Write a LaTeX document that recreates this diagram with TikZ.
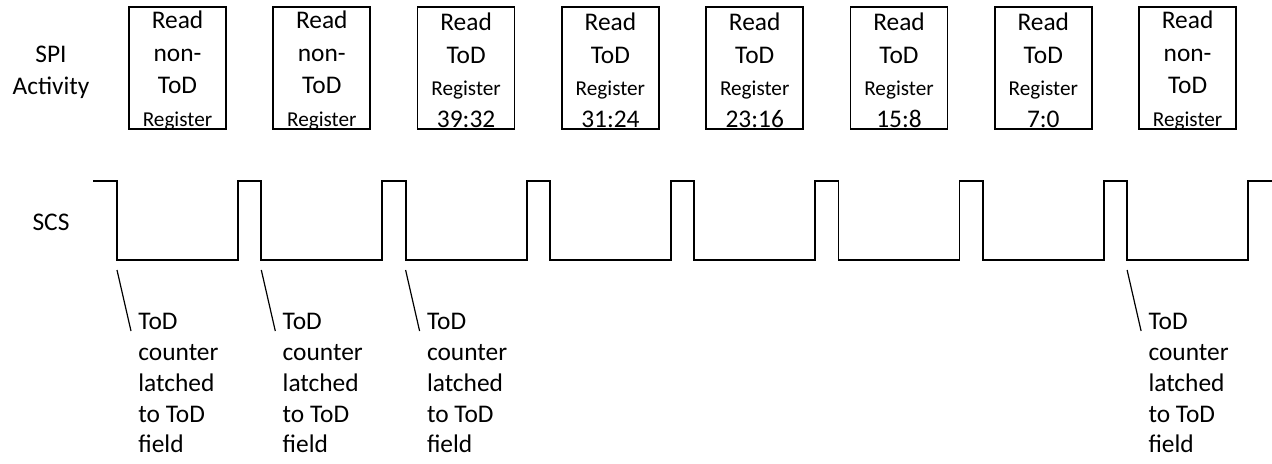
\documentclass[tikz,border=0pt]{standalone}
\usepackage{fontspec}
\setmainfont{Carlito}
\usetikzlibrary{positioning,calc}
\newcommand{\regfont}{\fontsize{10.6}{16}\selectfont}

\begin{document}
\begin{tikzpicture}[x=0.5pt,y=-0.5pt,
  font=\fontsize{12.7}{16.2}\selectfont,
  regtext/.style={inner sep=0pt,align=center},
  frame/.style={line width=0.85pt},
  latchnote/.style={anchor=north west,inner sep=0pt,align=left,
    font=\fontsize{12.7}{15.4}\selectfont},
  wave/.style={line width=0.9pt}]
\useasboundingbox (0,0) rectangle (1272,463);

% signal names
\node[align=center] (spi) at (51,72) {SPI\\Activity};
\node (scs) at (51,222) {SCS};

% SPI transactions
\foreach \i/\lab in {0/{non-\\ToD\\{\regfont Register}},1/{non-\\ToD\\{\regfont Register}},
    2/{ToD\\{\regfont Register}\\39:32},3/{ToD\\{\regfont Register}\\31:24},
    4/{ToD\\{\regfont Register}\\23:16},5/{ToD\\{\regfont Register}\\15:8},
    6/{ToD\\{\regfont Register}\\7:0},7/{non-\\ToD\\{\regfont Register}}} {
  \node[regtext] (rd\i) at ({177.5+144.3*\i},70.5) {Read\\\lab};
  \draw[frame] ($(rd\i.center)+(-48.5,-63.5)$) rectangle ($(rd\i.center)+(48.5,58.5)$);
}

% chip select waveform
\draw[wave] (93,181)
  \foreach \i in {0,...,7} {
    -- ({117+144.3*\i},181) -- ({117+144.3*\i},260)
    -- ({238+144.3*\i},260) -- ({238+144.3*\i},181)
  } -- (1272,181);

% latch points
\foreach \i in {0,1,2,7} {
  \coordinate (fall\i) at ({117+144.3*\i},270);
  \node[latchnote] (note\i) at ({138+144.3*\i},313)
    {ToD\\counter\\latched\\to ToD\\field};
  \draw[line width=0.6pt] (fall\i) -- ($(note\i.north west)+(-7,18)$);
}
\end{tikzpicture}
\end{document}
